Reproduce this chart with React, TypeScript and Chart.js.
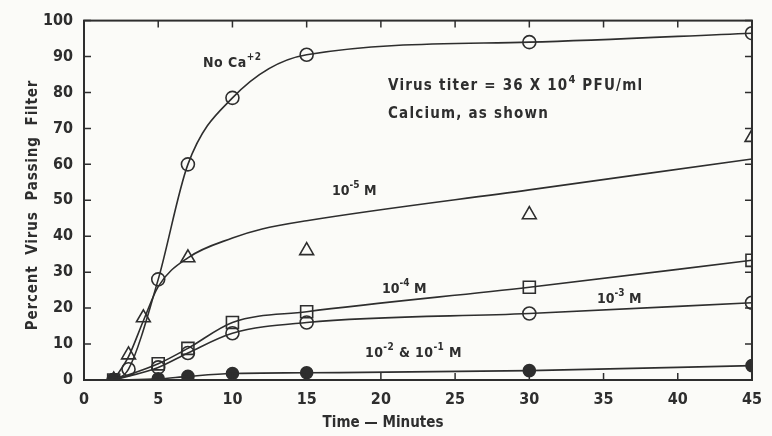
import React, { useEffect, useRef } from "react";
import { Chart, registerables } from "chart.js";

Chart.register(...registerables);

// ---- data ----
const xTicks = [0, 5, 10, 15, 20, 25, 30, 35, 40, 45];
const yTicks = [0, 10, 20, 30, 40, 50, 60, 70, 80, 90, 100];

// No Ca+2 (open circles)
const noCaX = [2, 3, 5, 7, 10, 15, 30, 45];
const noCaY = [0, 3, 28, 60, 78.5, 90.5, 94, 96.5];

// 10^-5 M (open triangles) – measured points
const m5X = [2, 3, 4, 7, 15, 30, 45];
const m5Y = [0, 7, 17.3, 34, 36, 46, 67.5];
// 10^-5 M – fitted curve as drawn
const m5FitX = [2, 3, 4, 5, 7, 10, 12, 15, 30, 45];
const m5FitY = [0, 6.5, 16.5, 26, 34, 39.5, 42, 44.3, 52.9, 61.5];

// 10^-4 M (open squares)
const m4X = [2, 5, 7, 10, 15, 30, 45];
const m4Y = [0, 4.5, 8.8, 16, 19, 25.8, 33.3];

// 10^-3 M (open circles)
const m3X = [2, 5, 7, 10, 15, 30, 45];
const m3Y = [0, 3.5, 7.5, 13, 16, 18.5, 21.5];

// 10^-2 & 10^-1 M (filled circles)
const m2X = [2, 5, 7, 10, 15, 30, 45];
const m2Y = [0, 0.3, 1, 1.8, 2, 2.6, 4];

const INK = "#2e2e2e";
const PAPER = "#fbfbf8";
const FONT = "'DejaVu Sans Condensed', 'DejaVu Sans', sans-serif";

const pts = (xs: number[], ys: number[]) => xs.map((x, i) => ({ x, y: ys[i] }));

type Part = [string, boolean];

function drawRich(ctx: CanvasRenderingContext2D, parts: Part[], x: number, y: number, size: number, spacing = 1) {
  let cx = x;
  (ctx as any).letterSpacing = `${spacing}px`;
  for (const [t, sup] of parts) {
    const s = sup ? Math.round(size * 0.72) : size;
    ctx.font = `bold ${s}px ${FONT}`;
    ctx.fillText(t, cx, sup ? y - size * 0.5 : y);
    cx += ctx.measureText(t).width;
  }
  (ctx as any).letterSpacing = "0px";
}

const framePlugin = {
  id: "frame",
  afterDraw(chart: any) {
    const { ctx, chartArea: a, scales } = chart;
    const xs = scales.x;
    const ys = scales.y;
    ctx.save();
    ctx.strokeStyle = INK;
    ctx.lineWidth = 2;
    ctx.strokeRect(a.left, a.top, a.right - a.left, a.bottom - a.top);
    ctx.lineWidth = 1.5;
    const L = 7;
    ctx.beginPath();
    for (const v of xTicks) {
      const px = xs.getPixelForValue(v);
      ctx.moveTo(px, a.bottom);
      ctx.lineTo(px, a.bottom - L);
      ctx.moveTo(px, a.top);
      ctx.lineTo(px, a.top + L);
    }
    for (const v of yTicks) {
      const py = ys.getPixelForValue(v);
      ctx.moveTo(a.left, py);
      ctx.lineTo(a.left + L, py);
      ctx.moveTo(a.right, py);
      ctx.lineTo(a.right - L, py);
    }
    ctx.stroke();

    ctx.fillStyle = INK;
    ctx.textBaseline = "alphabetic";
    ctx.textAlign = "left";
    drawRich(ctx, [["No Ca", false], ["+2", true]], 203, 67, 14, 0.5);
    drawRich(ctx, [["Virus titer = 36 X 10", false], ["4", true], [" PFU/ml", false]], 388, 90, 15, 1.2);
    drawRich(ctx, [["Calcium, as shown", false]], 388, 118, 15, 1.2);
    drawRich(ctx, [["10", false], ["-5", true], [" M", false]], 332, 195, 14, 0);
    drawRich(ctx, [["10", false], ["-4", true], [" M", false]], 382, 293, 14, 0);
    drawRich(ctx, [["10", false], ["-3", true], [" M", false]], 597, 303, 14, 0);
    drawRich(ctx, [["10", false], ["-2", true], [" & 10", false], ["-1", true], [" M", false]], 365, 357, 14, 0.4);

    // axis titles
    ctx.font = `bold 15px ${FONT}`;
    ctx.textAlign = "center";
    ctx.textBaseline = "middle";
    ctx.fillText("Time \u2014 Minutes", 383, 423);
    ctx.save();
    ctx.translate(33, 205);
    ctx.rotate(-Math.PI / 2);
    (ctx as any).letterSpacing = "0.8px";
    ctx.fillText("Percent  Virus  Passing  Filter", 0, 0);
    ctx.restore();
    ctx.restore();
  },
};

const bgPlugin = {
  id: "bg",
  beforeDraw(chart: any) {
    const { ctx, width, height } = chart;
    ctx.save();
    ctx.fillStyle = PAPER;
    ctx.fillRect(0, 0, width, height);
    ctx.restore();
  },
};

export default function App() {
  const ref = useRef<HTMLCanvasElement | null>(null);
  useEffect(() => {
    document.body.style.margin = "0";
    document.body.style.background = PAPER;
    const canvas = ref.current!;
    const lineDs = (xs: number[], ys: number[]) => ({
      data: pts(xs, ys),
      showLine: true,
      borderColor: INK,
      borderWidth: 1.6,
      pointRadius: 0,
      cubicInterpolationMode: "monotone" as const,
      fill: false,
    });
    const markDs = (xs: number[], ys: number[], style: string, radius: number, filled: boolean) => ({
      data: pts(xs, ys),
      showLine: false,
      pointStyle: style,
      pointRadius: radius,
      borderColor: INK,
      borderWidth: 1.6,
      backgroundColor: filled ? INK : "rgba(0,0,0,0)",
    });
    const chart = new Chart(canvas, {
      type: "scatter",
      data: {
        datasets: [
          lineDs(noCaX, noCaY),
          lineDs(m5FitX, m5FitY),
          lineDs(m4X, m4Y),
          lineDs(m3X, m3Y),
          lineDs(m2X, m2Y),
          markDs(noCaX, noCaY, "circle", 6.5, false),
          markDs(m5X, m5Y, "triangle", 8, false),
          markDs(m4X, m4Y, "rect", 8.5, false),
          markDs(m3X, m3Y, "circle", 6.5, false),
          markDs(m2X, m2Y, "circle", 6, true),
        ] as any,
      },
      options: {
        animation: false,
        responsive: false,
        devicePixelRatio: 1,
        layout: { padding: { left: 0, top: 16, right: 20, bottom: 0 } },
        plugins: { legend: { display: false }, tooltip: { enabled: false } },
        scales: {
          x: {
            type: "linear",
            min: 0,
            max: 45,
            afterFit: (s: any) => { s.height = 56; },
            afterBuildTicks: (s: any) => { s.ticks = xTicks.map((v) => ({ value: v })); },
            grid: { display: false, drawTicks: false },
            border: { display: false },
            ticks: { padding: 10, color: INK, font: { family: FONT, size: 16, weight: "bold" }, maxRotation: 0 },
          },
          y: {
            type: "linear",
            min: 0,
            max: 100,
            afterFit: (s: any) => { s.width = 84; },
            afterBuildTicks: (s: any) => { s.ticks = yTicks.map((v) => ({ value: v })); },
            grid: { display: false, drawTicks: false },
            border: { display: false },
            ticks: { padding: 11, color: INK, font: { family: FONT, size: 16, weight: "bold" } },
          },
        },
      },
      plugins: [bgPlugin, framePlugin],
    });
    return () => chart.destroy();
  }, []);
  return <canvas ref={ref} width={772} height={436} style={{ display: "block" }} />;
}
